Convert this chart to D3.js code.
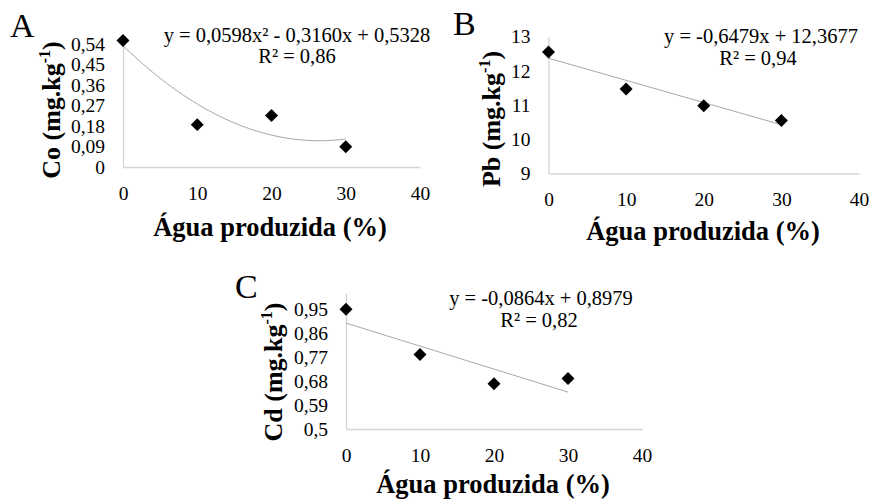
<!DOCTYPE html>
<html><head><meta charset="utf-8">
<script src="https://cdn.jsdelivr.net/npm/d3@7"></script>
<style>
body{margin:0;background:#fff}
</style>
</head><body><svg id="c" width="871" height="500"></svg>
<script>
// ---------- data ----------
const xValues = [0, 10, 20, 30];
const xTicks = [0, 10, 20, 30, 40];
const coValues = [0.555, 0.186, 0.226, 0.089];
const pbValues = [12.55, 11.47, 10.98, 10.55];
const cdValues = [0.95, 0.78, 0.67, 0.69];
const coTicks = [0, 0.09, 0.18, 0.27, 0.36, 0.45, 0.54];
const pbTicks = [9, 10, 11, 12, 13];
const cdTicks = [0.5, 0.59, 0.68, 0.77, 0.86, 0.95];
// trend: y = a*(x/10)^2 + b*(x/10) + c
const coFit = [0.0598, -0.3160, 0.5328];
const pbFit = [0, -0.6479, 12.3677];
const cdFit = [0, -0.0864, 0.8979];
const panelLetters = ["A", "B", "C"];
const yNames = ["Co", "Pb", "Cd"];
const equations = ["y = 0,0598x² - 0,3160x + 0,5328", "y = -0,6479x + 12,3677", "y = -0,0864x + 0,8979"];
const r2Labels = ["R² = 0,86", "R² = 0,94", "R² = 0,82"];
const xTitle = "Água produzida (%)";

// ---------- layout ----------
const FONT = '"Liberation Serif"';
const panels = [
  {values: coValues, ticks: coTicks, fit: coFit, yDomain: [0, 0.54],
   xr: [123, 420], yr: [167, 44],
   letter: [10, 37], ytitle: [60, 110], xtitle: [270, 236],
   eq: [297, 42], r2: [297, 63]},
  {values: pbValues, ticks: pbTicks, fit: pbFit, yDomain: [9, 13],
   xr: [548.5, 859], yr: [173.5, 36.5],
   letter: [453, 35], ytitle: [500, 119], xtitle: [703, 240],
   eq: [761, 43], r2: [758, 65]},
  {values: cdValues, ticks: cdTicks, fit: cdFit, yDomain: [0.5, 1.011],
   xr: [346, 642], yr: [429, 293],
   letter: [235, 298], ytitle: [282, 372], xtitle: [493, 493],
   eq: [541, 305], r2: [539, 327]}
];

const svg = d3.select("#c");
const fmt = d => String(d).replace(".", ",");
const axisColor = "#d4d4d4";

panels.forEach((p, i) => {
  const x = d3.scaleLinear().domain([0, 40]).range(p.xr);
  const y = d3.scaleLinear().domain(p.yDomain).range(p.yr);
  const g = svg.append("g");

  // axes
  const xa = g.append("g").attr("transform", `translate(0,${p.yr[0]})`)
    .call(d3.axisBottom(x).tickValues(xTicks).tickSize(0).tickSizeOuter(0).tickPadding(19).tickFormat(fmt));
  const ya = g.append("g").attr("transform", `translate(${p.xr[0]},0)`)
    .call(d3.axisLeft(y).tickValues(p.ticks).tickSize(0).tickSizeOuter(0).tickPadding(18).tickFormat(fmt));
  [xa, ya].forEach(a => {
    a.attr("font-family", null).attr("font-size", null);
    a.select(".domain").attr("stroke", axisColor).attr("stroke-width", 1.3);
    a.selectAll("text").style("font-family", FONT).style("font-size", "19.5px").attr("fill", "#000");
  });

  // trend line
  const fx = t => p.fit[0] * (t / 10) * (t / 10) + p.fit[1] * (t / 10) + p.fit[2];
  const ts = d3.range(0, 30.01, 0.5);
  g.append("path").datum(ts)
    .attr("fill", "none").attr("stroke", "#a6a6a6").attr("stroke-width", 1)
    .attr("d", d3.line().x(t => x(t)).y(t => y(fx(t))));

  // points
  g.selectAll(".pt").data(xValues.map((xv, k) => [xv, p.values[k]])).join("path")
    .attr("transform", d => `translate(${x(d[0])},${y(d[1])}) rotate(45)`)
    .attr("d", d3.symbol(d3.symbolSquare, 84)())
    .attr("fill", "#000");

  const txt = (sel) => sel.style("font-family", FONT).attr("fill", "#000");

  // panel letter
  txt(g.append("text")).attr("x", p.letter[0]).attr("y", p.letter[1])
    .style("font-size", "34px").text(panelLetters[i]);

  // equation
  txt(g.append("text")).attr("x", p.eq[0]).attr("y", p.eq[1]).attr("text-anchor", "middle")
    .style("font-size", "20.5px").text(equations[i]);
  txt(g.append("text")).attr("x", p.r2[0]).attr("y", p.r2[1]).attr("text-anchor", "middle")
    .style("font-size", "20.5px").text(r2Labels[i]);

  // x title
  txt(g.append("text")).attr("x", p.xtitle[0]).attr("y", p.xtitle[1]).attr("text-anchor", "middle")
    .style("font-size", "26.5px").style("font-weight", "bold").text(xTitle);

  // y title
  const yt = txt(g.append("text")).attr("transform", `translate(${p.ytitle[0]},${p.ytitle[1]}) rotate(-90)`)
    .attr("text-anchor", "middle").style("font-size", "26px").style("font-weight", "bold");
  yt.append("tspan").text(yNames[i] + " (mg.kg");
  yt.append("tspan").attr("dy", -10).style("font-size", "16px").text("-1");
  yt.append("tspan").attr("dy", 10).text(")");
});
</script>
</body></html>
